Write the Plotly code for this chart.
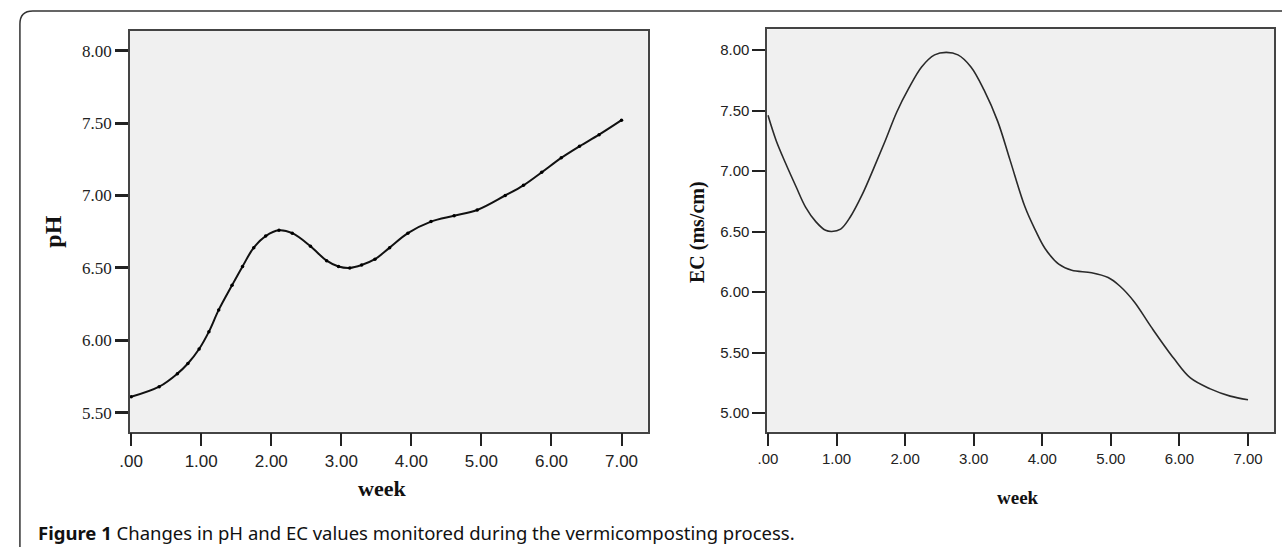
import plotly.graph_objects as go

# ---- data ----
weeks_ph = [0.00, 0.40, 0.66, 0.81, 0.97, 1.11, 1.25, 1.44, 1.59, 1.75, 1.92, 2.11, 2.30, 2.56,
            2.79, 2.96, 3.12, 3.29, 3.48, 3.69, 3.95, 4.28, 4.61, 4.94, 5.34, 5.60, 5.86, 6.14,
            6.40, 6.68, 7.00]
ph = [5.61, 5.68, 5.77, 5.84, 5.94, 6.06, 6.21, 6.38, 6.51, 6.64, 6.72, 6.76, 6.74, 6.65,
      6.55, 6.51, 6.50, 6.52, 6.56, 6.64, 6.74, 6.82, 6.86, 6.90, 7.00, 7.07, 7.16, 7.26,
      7.34, 7.42, 7.52]

weeks_ec = [0.00, 0.12, 0.26, 0.41, 0.55, 0.70, 0.84, 0.93, 1.06, 1.20, 1.37, 1.54, 1.71, 1.88,
            2.05, 2.24, 2.43, 2.60, 2.77, 2.96, 3.15, 3.35, 3.53, 3.75, 3.90, 4.04, 4.24, 4.43,
            4.72, 4.96, 5.13, 5.34, 5.59, 5.92, 6.16, 6.45, 6.74, 7.00]
ec = [7.46, 7.25, 7.06, 6.87, 6.70, 6.58, 6.51, 6.50, 6.52, 6.62, 6.80, 7.02, 7.25, 7.49,
      7.68, 7.86, 7.96, 7.98, 7.96, 7.86, 7.67, 7.41, 7.09, 6.70, 6.51, 6.36, 6.23, 6.18,
      6.16, 6.12, 6.05, 5.92, 5.71, 5.45, 5.29, 5.20, 5.14, 5.11]

x_tickvals = [0, 1, 2, 3, 4, 5, 6, 7]
x_ticktext = [".00", "1.00", "2.00", "3.00", "4.00", "5.00", "6.00", "7.00"]
ph_tickvals = [5.5, 6.0, 6.5, 7.0, 7.5, 8.0]
ph_ticktext = ["5.50", "6.00", "6.50", "7.00", "7.50", "8.00"]
ec_tickvals = [5.0, 5.5, 6.0, 6.5, 7.0, 7.5, 8.0]
ec_ticktext = ["5.00", "5.50", "6.00", "6.50", "7.00", "7.50", "8.00"]

caption = "<b>Figure 1</b> Changes in pH and EC values monitored during the vermicomposting process."

W, H = 1282, 547
def px(x):
    return x / W
def py(y):
    return 1 - y / H

fig = go.Figure()
fig.add_trace(go.Scatter(x=weeks_ph, y=ph, mode="lines+markers",
                         line=dict(color="#111111", width=2, shape="spline", smoothing=1.0),
                         marker=dict(size=3.5, color="#000000"),
                         xaxis="x", yaxis="y", showlegend=False, hoverinfo="x+y"))
fig.add_trace(go.Scatter(x=weeks_ec, y=ec, mode="lines",
                         line=dict(color="#2a2a2a", width=1.6, shape="spline", smoothing=1.0),
                         xaxis="x2", yaxis="y2", showlegend=False, hoverinfo="x+y"))

axis_common = dict(showgrid=False, zeroline=False, showline=True, mirror=True,
                   linecolor="#444444", linewidth=1.5, ticks="outside", ticklen=13,
                   tickcolor="#222222")

fig.update_layout(
    width=W, height=H,
    margin=dict(l=0, r=0, t=0, b=0),
    paper_bgcolor="white",
    plot_bgcolor="#f0f0f0",
    xaxis=dict(domain=[px(120), px(642.3)], range=[-0.017, 7.375], anchor="y",
               tickvals=x_tickvals, ticktext=x_ticktext, tickwidth=2,
               tickfont=dict(family="Liberation Sans", size=17, color="#222222"),
               **axis_common),
    yaxis=dict(domain=[py(431.7), py(30.7)], range=[5.369, 8.138], anchor="x",
               tickvals=ph_tickvals, ticktext=ph_ticktext, tickwidth=2.5,
               tickfont=dict(family="Liberation Serif", size=17, color="#222222"),
               **axis_common),
    xaxis2=dict(domain=[px(762.7), px(1274)], range=[-0.012, 7.38], anchor="y2",
                tickvals=x_tickvals, ticktext=x_ticktext, tickwidth=1.5,
                tickfont=dict(family="Liberation Sans", size=15, color="#222222"),
                **axis_common),
    yaxis2=dict(domain=[py(431.7), py(29.3)], range=[4.846, 8.171], anchor="x2",
                tickvals=ec_tickvals, ticktext=ec_ticktext, tickwidth=1.5,
                tickfont=dict(family="Liberation Sans", size=15, color="#222222"),
                **axis_common),
)

def label(text, x, y, size, angle=0, family="Liberation Serif", xanchor="center"):
    fig.add_annotation(text=text, x=px(x), y=py(y), xref="paper", yref="paper",
                       xanchor=xanchor, yanchor="middle", textangle=angle,
                       showarrow=False, font=dict(family=family, size=size, color="#111111"))

# axis titles
label("<b>pH</b>", 42, 232, 24, angle=-90)
label("<b>week</b>", 374.6, 488.5, 22)
label("<b>EC (ms/cm)</b>", 693, 232, 20, angle=-90)
label("<b>week</b>", 1015.8, 497, 19)
# caption
label(caption, 25, 532, 18.5, family="Noto Sans", xanchor="left")

# outer rounded frame (open to the right and bottom)
r = 13
path = (f"M {px(9)},{py(600)} L {px(9)},{py(11 + r)} "
        f"Q {px(9)},{py(11)} {px(9 + r)},{py(11)} L {px(1320)},{py(11)}")
fig.add_shape(type="path", path=path, xref="paper", yref="paper",
              line=dict(color="#333333", width=1.5))

fig.write_html("out.html",
               config={"displayModeBar": False},
               post_script="document.body.style.margin='0';document.body.style.overflow='hidden';")
